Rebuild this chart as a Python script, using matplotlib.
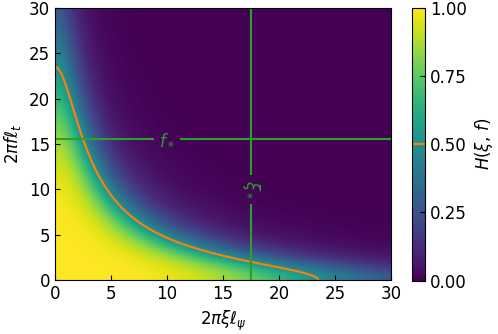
import matplotlib.pyplot as plt
import numpy as np

# ejes (2*pi*xi*l_psi, 2*pi*f*l_t)
x_range = [0, 30]
y_range = [0, 30]

# parametros del filtro
h_axis = 797.0     # escala radial (H = 0.5 en 23.5 sobre los ejes)
h_cross = 4000.0   # escala del termino cruzado
h_order = 2.0      # pendiente de la transicion
h_level = [0.5]

# frecuencias caracteristicas
xi_star = 17.5
f_star = 15.5

xg = np.linspace(x_range[0], x_range[1], 400)
yg = np.linspace(y_range[0], y_range[1], 400)
X, Y = np.meshgrid(xg, yg)
A = (X**2 + Y**2) / h_axis + (X * Y)**2 / h_cross
H = 1.0 / (1.0 + (A / np.log(2))**h_order)

plt.rcParams['font.size'] = 12

fig = plt.figure(figsize=(4.98, 3.34), dpi=100)
ax = fig.add_axes([0.110, 0.162, 0.675, 0.814])
cax = fig.add_axes([0.827, 0.160, 0.027, 0.816])

im = ax.imshow(H, origin='lower', extent=x_range + y_range, cmap='viridis',
               vmin=0, vmax=1, aspect='auto', interpolation='bilinear')
cs = ax.contour(X, Y, H, levels=h_level, colors='C1', linewidths=1.5)

cx = ax.contour(X, Y, X, levels=[xi_star], colors='C2', linewidths=1.5)
cy = ax.contour(X, Y, Y, levels=[f_star], colors='C2', linewidths=1.5)
ty = ax.clabel(cy, inline=True, manual=[(10, f_star)], fmt={f_star: r'$f_*$'}, fontsize=12)
tx = ax.clabel(cx, inline=True, manual=[(xi_star, 10)], fmt={xi_star: r'$\xi_*$'}, fontsize=12)
for t in tx:
    t.set_rotation(-90)

ax.set_xlim(x_range)
ax.set_ylim(y_range)
ax.set_xticks([0, 5, 10, 15, 20, 25, 30])
ax.set_yticks([0, 5, 10, 15, 20, 25, 30])
ax.tick_params(direction='in')
ax.set_xlabel(r'$2\pi\xi\ell_\psi$')
ax.set_ylabel(r'$2\pi f\ell_t$')

cb = fig.colorbar(im, cax=cax, ticks=[0, 0.25, 0.5, 0.75, 1.0])
cb.ax.set_yticklabels(['0.00', '0.25', '0.50', '0.75', '1.00'])
cb.ax.tick_params(direction='in')
cb.add_lines(cs)
cb.set_label(r'$H(\xi,\, f)$')

fig.savefig('out.png', dpi=100)
